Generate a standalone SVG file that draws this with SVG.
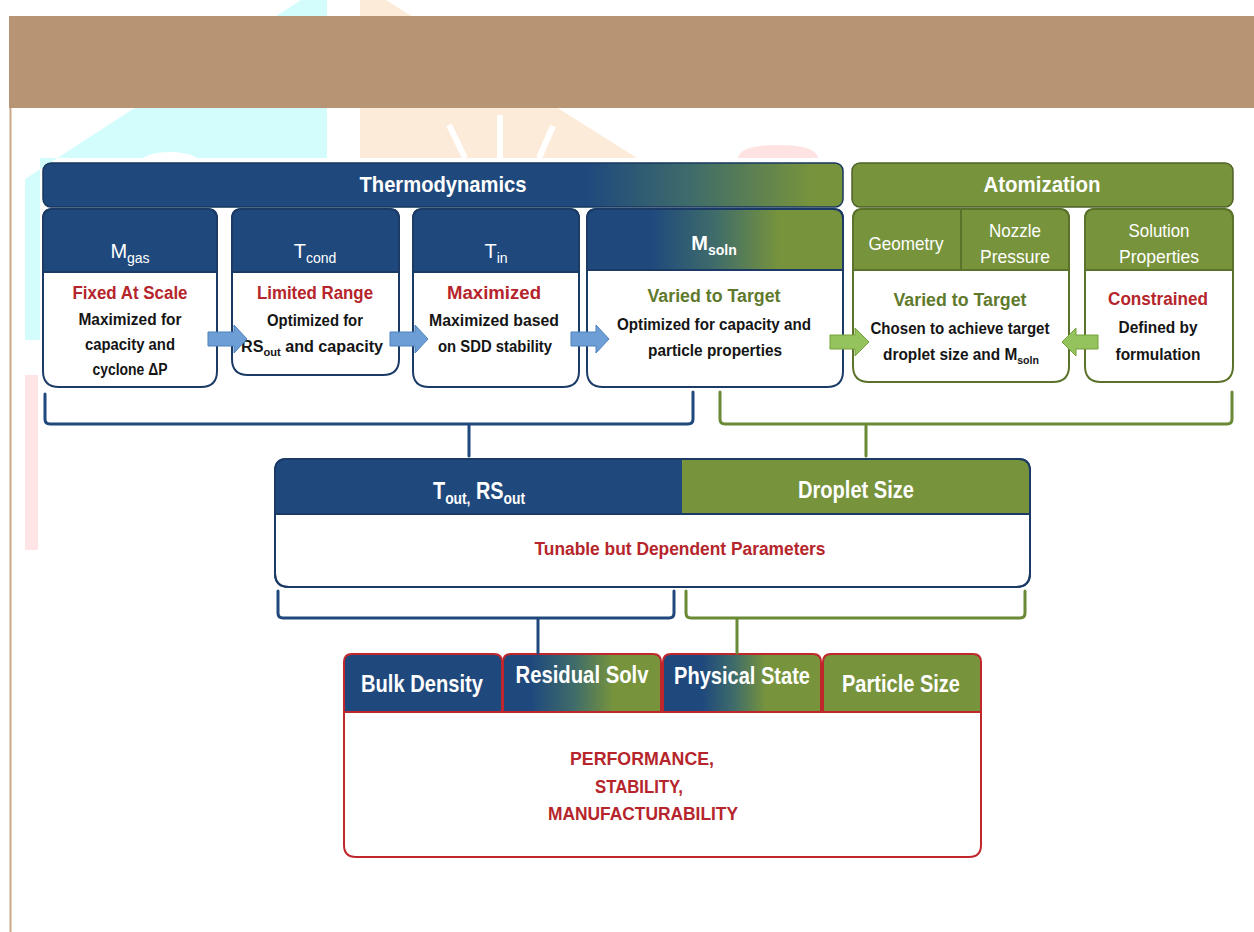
<svg xmlns="http://www.w3.org/2000/svg" width="1254" height="932" viewBox="0 0 1254 932">
<defs>
<style>
.hd{font-family:"Liberation Sans Narrow","Liberation Sans",Arial,sans-serif;fill:#ffffff;text-anchor:middle}
.bd{font-family:"Liberation Sans",Arial,sans-serif;font-weight:bold;text-anchor:middle}
.red{fill:#b5252b}.grn{fill:#5f7a2c}.blk{fill:#151515}
.ob{stroke:#1b3b66;stroke-width:2}
.og{stroke:#5a7229;stroke-width:2}
.orr{stroke:#c0272d;stroke-width:2}
.bb{fill:none;stroke:#1f497d;stroke-width:3;stroke-linecap:round}
.bg{fill:none;stroke:#6b8a35;stroke-width:3;stroke-linecap:round}
.ab{fill:#6d9ed6;stroke:#4f81bd;stroke-width:1}
.ag{fill:#94c25c;stroke:#76a03c;stroke-width:1}
</style>
<linearGradient id="gThermo" gradientUnits="userSpaceOnUse" x1="43" y1="0" x2="843" y2="0">
<stop offset="0.68" stop-color="#1f497d"/><stop offset="0.81" stop-color="#3f6c6a"/><stop offset="0.96" stop-color="#77933c"/>
</linearGradient>
<linearGradient id="gMsoln" x1="0" y1="0" x2="1" y2="0">
<stop offset="0.25" stop-color="#1f497d"/><stop offset="0.5" stop-color="#3f6c6a"/><stop offset="0.75" stop-color="#77933c"/>
</linearGradient>
<linearGradient id="gRes" x1="0" y1="0" x2="1" y2="0">
<stop offset="0.18" stop-color="#1f497d"/><stop offset="0.45" stop-color="#3f6c6a"/><stop offset="0.7" stop-color="#77933c"/>
</linearGradient>
<linearGradient id="gPhys" x1="0" y1="0" x2="1" y2="0">
<stop offset="0.25" stop-color="#1f497d"/><stop offset="0.45" stop-color="#3f6c6a"/><stop offset="0.65" stop-color="#77933c"/>
</linearGradient>
</defs>

<rect x="0" y="0" width="1254" height="932" fill="#ffffff"/>
<!-- watermark -->
<polygon points="301,0 327,0 327,158 40,158 40,340 25,340 25,179" fill="#d3fdfd"/>
<ellipse cx="170" cy="166" rx="33" ry="14" fill="#ffffff"/>
<polygon points="360,0 386,0 637,158 360,158" fill="#fdebd9"/>
<g stroke="#ffffff" stroke-width="6">
<line x1="449" y1="125" x2="465" y2="158"/>
<line x1="500" y1="115" x2="500" y2="158"/>
<line x1="553" y1="126" x2="539" y2="158"/>
</g>
<path d="M738,158 Q740,145 778,145 Q816,145 818,158 Z" fill="#ffe3e3"/>
<rect x="25" y="375" width="13" height="175" fill="#ffe5e5"/>
<rect x="9" y="16" width="1245" height="92" fill="#b79574"/>
<line x1="10.5" y1="108" x2="10.5" y2="932" stroke="#c9a888" stroke-width="2"/>

<!-- group headers -->
<g id="thermodynamics">
<rect x="43" y="163" width="800" height="44" rx="8" fill="url(#gThermo)" stroke="#17375e" stroke-width="1.5"/>
<text class="hd" x="443" y="192" font-size="22" font-weight="bold" textLength="167" lengthAdjust="spacingAndGlyphs">Thermodynamics</text>
</g>
<g id="atomization">
<rect x="852" y="163" width="381" height="44" rx="8" fill="#77933c" stroke="#4f6228" stroke-width="1.5"/>
<text class="hd" x="1042" y="192" font-size="22" font-weight="bold" textLength="117" lengthAdjust="spacingAndGlyphs">Atomization</text>
</g>

<!-- thermo boxes -->
<g id="m-gas">
<path d="M53,209 H207 Q217,209 217,219 V371 Q217,387 201,387 H59 Q43,387 43,371 V219 Q43,209 53,209 Z" fill="#ffffff" class="ob"/>
<path d="M43,272 V219 Q43,209 53,209 H207 Q217,209 217,219 V272 Z" fill="#1f497d" class="ob"/>
<text class="hd" x="130" y="258" font-size="20">M<tspan font-size="14" dy="5">gas</tspan></text>
<text class="bd red" x="130" y="299" font-size="18" textLength="115" lengthAdjust="spacingAndGlyphs">Fixed At Scale</text>
<text class="bd blk" x="130" y="325" font-size="16" textLength="103" lengthAdjust="spacingAndGlyphs">Maximized for</text>
<text class="bd blk" x="130" y="350" font-size="16" textLength="90" lengthAdjust="spacingAndGlyphs">capacity and</text>
<text class="bd blk" x="130" y="375" font-size="16" textLength="75" lengthAdjust="spacingAndGlyphs">cyclone ΔP</text>
</g>
<g id="t-cond">
<path d="M242,209 H389 Q399,209 399,219 V359 Q399,375 383,375 H248 Q232,375 232,359 V219 Q232,209 242,209 Z" fill="#ffffff" class="ob"/>
<path d="M232,272 V219 Q232,209 242,209 H389 Q399,209 399,219 V272 Z" fill="#1f497d" class="ob"/>
<text class="hd" x="315" y="258" font-size="20">T<tspan font-size="14" dy="5">cond</tspan></text>
<text class="bd red" x="315" y="299" font-size="18" textLength="116" lengthAdjust="spacingAndGlyphs">Limited Range</text>
<text class="bd blk" x="315" y="326" font-size="16" textLength="96" lengthAdjust="spacingAndGlyphs">Optimized for</text>
<text class="bd blk" x="312" y="352" font-size="16" textLength="142" lengthAdjust="spacingAndGlyphs">RS<tspan font-size="11" dy="4">out</tspan><tspan dy="-4"> and capacity</tspan></text>
</g>
<g id="t-in">
<path d="M423,209 H569 Q579,209 579,219 V371 Q579,387 563,387 H429 Q413,387 413,371 V219 Q413,209 423,209 Z" fill="#ffffff" class="ob"/>
<path d="M413,272 V219 Q413,209 423,209 H569 Q579,209 579,219 V272 Z" fill="#1f497d" class="ob"/>
<text class="hd" x="496" y="258" font-size="20">T<tspan font-size="14" dy="5">in</tspan></text>
<text class="bd red" x="494" y="299" font-size="18" textLength="94" lengthAdjust="spacingAndGlyphs">Maximized</text>
<text class="bd blk" x="494" y="326" font-size="16" textLength="130" lengthAdjust="spacingAndGlyphs">Maximized based</text>
<text class="bd blk" x="495" y="352" font-size="16" textLength="114" lengthAdjust="spacingAndGlyphs">on SDD stability</text>
</g>
<g id="m-soln">
<path d="M597,209 H833 Q843,209 843,219 V371 Q843,387 827,387 H603 Q587,387 587,371 V219 Q587,209 597,209 Z" fill="#ffffff" class="ob"/>
<path d="M587,270 V219 Q587,209 597,209 H833 Q843,209 843,219 V270 Z" fill="url(#gMsoln)" stroke="#1b3b66" stroke-width="2"/>
<text class="hd" x="714" y="250" font-size="20" font-weight="bold">M<tspan font-size="14" dy="5">soln</tspan></text>
<text class="bd grn" x="714" y="302" font-size="18" textLength="133" lengthAdjust="spacingAndGlyphs">Varied to Target</text>
<text class="bd blk" x="714" y="330" font-size="16" textLength="194" lengthAdjust="spacingAndGlyphs">Optimized for capacity and</text>
<text class="bd blk" x="715" y="356" font-size="16" textLength="134" lengthAdjust="spacingAndGlyphs">particle properties</text>
</g>

<!-- atomization boxes -->
<g id="nozzle">
<path d="M863,209 H1059 Q1069,209 1069,219 V366 Q1069,382 1053,382 H869 Q853,382 853,366 V219 Q853,209 863,209 Z" fill="#ffffff" class="og"/>
<path d="M853,270 V219 Q853,209 863,209 H1059 Q1069,209 1069,219 V270 Z" fill="#77933c" class="og"/>
<line x1="961" y1="210" x2="961" y2="270" stroke="#5a7229" stroke-width="2"/>
<text class="hd" x="906" y="250" font-size="19" textLength="75" lengthAdjust="spacingAndGlyphs">Geometry</text>
<text class="hd" x="1015" y="237" font-size="19" textLength="52" lengthAdjust="spacingAndGlyphs">Nozzle</text>
<text class="hd" x="1015" y="263" font-size="19" textLength="70" lengthAdjust="spacingAndGlyphs">Pressure</text>
<text class="bd grn" x="960" y="306" font-size="18" textLength="133" lengthAdjust="spacingAndGlyphs">Varied to Target</text>
<text class="bd blk" x="960" y="334" font-size="16" textLength="179" lengthAdjust="spacingAndGlyphs">Chosen to achieve target</text>
<text class="bd blk" x="961" y="360" font-size="16" textLength="156" lengthAdjust="spacingAndGlyphs">droplet size and M<tspan font-size="11" dy="4">soln</tspan></text>
</g>
<g id="solution-properties">
<path d="M1095,209 H1223 Q1233,209 1233,219 V366 Q1233,382 1217,382 H1101 Q1085,382 1085,366 V219 Q1085,209 1095,209 Z" fill="#ffffff" class="og"/>
<path d="M1085,270 V219 Q1085,209 1095,209 H1223 Q1233,209 1233,219 V270 Z" fill="#77933c" class="og"/>
<text class="hd" x="1159" y="237" font-size="19" textLength="61" lengthAdjust="spacingAndGlyphs">Solution</text>
<text class="hd" x="1159" y="263" font-size="19" textLength="80" lengthAdjust="spacingAndGlyphs">Properties</text>
<text class="bd red" x="1158" y="305" font-size="18" textLength="100" lengthAdjust="spacingAndGlyphs">Constrained</text>
<text class="bd blk" x="1158" y="333" font-size="16" textLength="79" lengthAdjust="spacingAndGlyphs">Defined by</text>
<text class="bd blk" x="1158" y="360" font-size="16" textLength="85" lengthAdjust="spacingAndGlyphs">formulation</text>
</g>

<!-- middle node -->
<g id="dependent-parameters">
<path d="M287,459 H1018 Q1030,459 1030,471 V573 Q1030,587 1016,587 H289 Q275,587 275,573 V471 Q275,459 287,459 Z" fill="#ffffff" class="ob"/>
<path d="M275,514 V471 Q275,459 287,459 H682 V514 Z" fill="#1f497d"/>
<path d="M682,514 V459 H1018 Q1030,459 1030,471 V514 Z" fill="#77933c"/>
<path d="M287,459 H1018 Q1030,459 1030,471 V573 Q1030,587 1016,587 H289 Q275,587 275,573 V471 Q275,459 287,459 Z M275,514 H1030" fill="none" class="ob"/>
<text class="hd" x="479" y="499" font-size="23" font-weight="bold" textLength="92" lengthAdjust="spacingAndGlyphs">T<tspan font-size="16" dy="5">out,</tspan><tspan dy="-5"> RS</tspan><tspan font-size="16" dy="5">out</tspan></text>
<text class="hd" x="856" y="498" font-size="23" font-weight="bold" textLength="116" lengthAdjust="spacingAndGlyphs">Droplet Size</text>
<text class="bd red" x="680" y="555" font-size="18" textLength="291" lengthAdjust="spacingAndGlyphs">Tunable but Dependent Parameters</text>
</g>

<!-- bottom node -->
<g id="attributes">
<path d="M344,712 V845 Q344,857 356,857 H969 Q981,857 981,845 V712 Z" fill="#ffffff" class="orr"/>
<path d="M344,712 V662 Q344,654 352,654 H494 Q502,654 502,662 V712 Z" fill="#1f497d" class="orr"/>
<path d="M503,712 V662 Q503,654 511,654 H653 Q661,654 661,662 V712 Z" fill="url(#gRes)" class="orr"/>
<path d="M663,712 V662 Q663,654 671,654 H813 Q821,654 821,662 V712 Z" fill="url(#gPhys)" class="orr"/>
<path d="M823,712 V662 Q823,654 831,654 H973 Q981,654 981,662 V712 Z" fill="#77933c" class="orr"/>
<text class="hd" x="422" y="692" font-size="24" font-weight="bold" textLength="122" lengthAdjust="spacingAndGlyphs">Bulk Density</text>
<text class="hd" x="582" y="683" font-size="24" font-weight="bold" textLength="133" lengthAdjust="spacingAndGlyphs">Residual Solv</text>
<text class="hd" x="742" y="684" font-size="24" font-weight="bold" textLength="136" lengthAdjust="spacingAndGlyphs">Physical State</text>
<text class="hd" x="901" y="692" font-size="24" font-weight="bold" textLength="118" lengthAdjust="spacingAndGlyphs">Particle Size</text>
<text class="bd red" x="642" y="765" font-size="18" textLength="144" lengthAdjust="spacingAndGlyphs">PERFORMANCE,</text>
<text class="bd red" x="639" y="793" font-size="18" textLength="88" lengthAdjust="spacingAndGlyphs">STABILITY,</text>
<text class="bd red" x="643" y="820" font-size="18" textLength="190" lengthAdjust="spacingAndGlyphs">MANUFACTURABILITY</text>
</g>

<!-- connectors -->
<g id="connectors">
<polygon class="ab" points="208,332 234,332 234,325 247,339 234,353 234,346 208,346"/>
<polygon class="ab" points="390,332 415,332 415,325 428,339 415,353 415,346 390,346"/>
<polygon class="ab" points="571,332 596,332 596,325 609,339 596,353 596,346 571,346"/>
<polygon class="ag" points="830,335 855,335 855,328 869,342 855,356 855,349 830,349"/>
<polygon class="ag" points="1098,335 1076,335 1076,328 1062,342 1076,356 1076,349 1098,349"/>
<path class="bb" d="M45,394 V419 Q45,424 50,424 H688 Q693,424 693,419 V392 M469,424 V456"/>
<path class="bg" d="M720,392 V419 Q720,424 725,424 H1227 Q1232,424 1232,419 V392 M866,424 V456"/>
<path class="bb" d="M278,591 V613 Q278,618 283,618 H669 Q674,618 674,613 V591 M538,618 V653"/>
<path class="bg" d="M686,591 V613 Q686,618 691,618 H1020 Q1025,618 1025,613 V591 M737,618 V653"/>
</g>
</svg>
